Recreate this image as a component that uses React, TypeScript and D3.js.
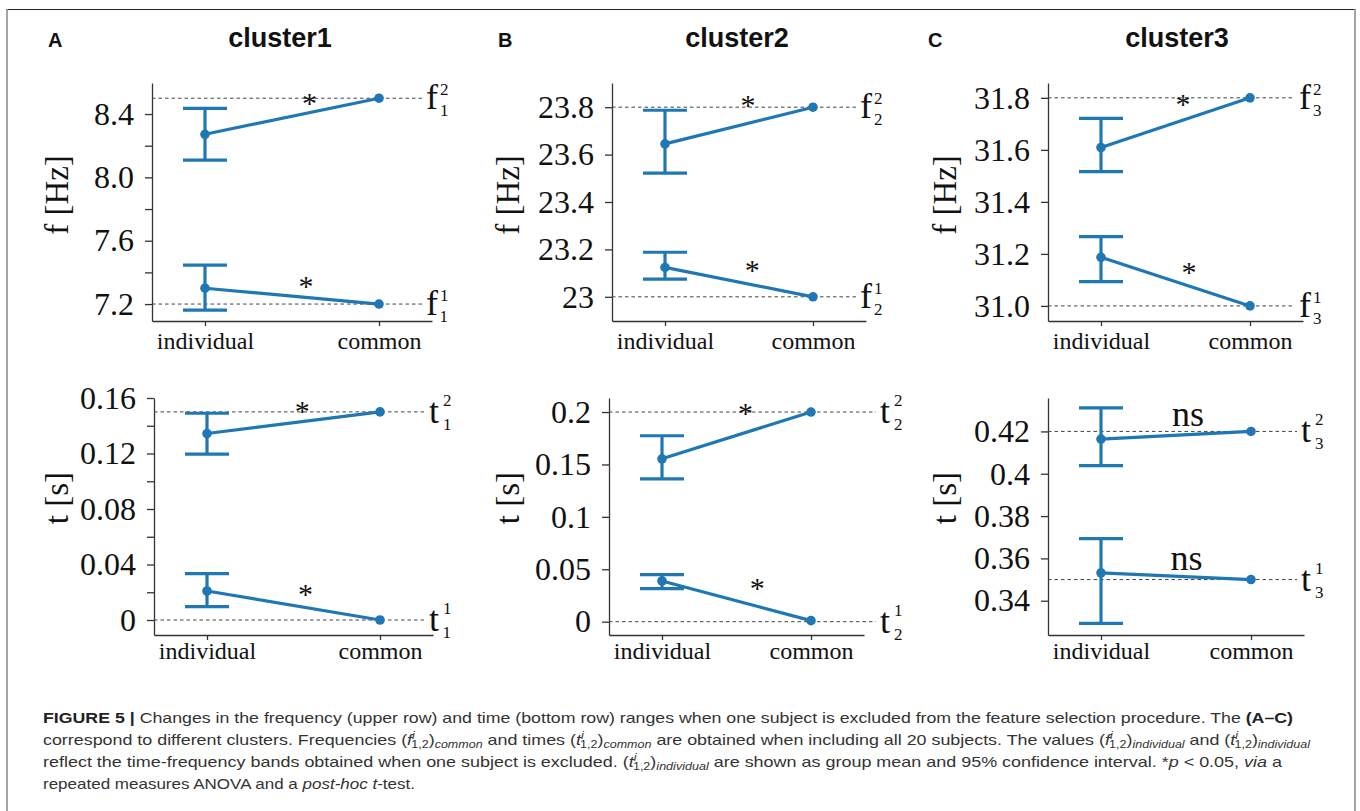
import React, { useRef, useEffect } from 'react';
import * as d3 from 'd3';

const WIDTH = 1360;
const HEIGHT = 811;

const panelLetters = ['A', 'B', 'C'];
const clusterNames = ['cluster1', 'cluster2', 'cluster3'];
const categories = ['individual', 'common'];

// upper row: frequency, per cluster [band 1, band 2]
const freqMean = [[7.3, 8.272], [23.124, 23.645], [31.187, 31.609]];
const freqLow = [[7.162, 8.109], [23.075, 23.522], [31.093, 31.516]];
const freqHigh = [[7.446, 8.436], [23.188, 23.787], [31.266, 31.721]];
const freqCommon = [[7.2, 8.5], [23.0, 23.8], [31.0, 31.8]];
const freqRef = [[7.2, 8.5], [23.0, 23.8], [31.0, 31.8]];
const freqDomain = [[7.093, 8.596], [22.898, 23.902], [30.942, 31.857]];
const freqTicks = [
  [7.2, 7.4, 7.6, 7.8, 8.0, 8.2, 8.4],
  [23.0, 23.2, 23.4, 23.6, 23.8],
  [31.0, 31.2, 31.4, 31.6, 31.8],
];
const freqTickLabels = [
  ['7.2', '', '7.6', '', '8.0', '', '8.4'],
  ['23', '23.2', '23.4', '23.6', '23.8'],
  ['31.0', '31.2', '31.4', '31.6', '31.8'],
];

// bottom row: time, per cluster [band 1, band 2]
const timeMean = [[0.0209, 0.1344], [0.0388, 0.1554], [0.3532, 0.4164]];
const timeLow = [[0.0097, 0.1195], [0.0316, 0.1363], [0.3293, 0.4038]];
const timeHigh = [[0.0335, 0.149], [0.0449, 0.1774], [0.3693, 0.4311]];
const timeCommon = [[0.0, 0.15], [0.001, 0.2], [0.35, 0.42]];
const timeRef = [[0.0, 0.15], [0.0, 0.2], [0.35, 0.42]];
const timeDomain = [[-0.0108, 0.16], [-0.0127, 0.2134], [0.3238, 0.4358]];
const timeTicks = [
  [0, 0.02, 0.04, 0.06, 0.08, 0.1, 0.12, 0.14, 0.16],
  [0, 0.05, 0.1, 0.15, 0.2],
  [0.34, 0.36, 0.38, 0.4, 0.42],
];
const timeTickLabels = [
  ['0', '', '0.04', '', '0.08', '', '0.12', '', '0.16'],
  ['0', '0.05', '0.1', '0.15', '0.2'],
  ['0.34', '0.36', '0.38', '0.4', '0.42'],
];

// significance marks per band
const freqSig = [['*', '*'], ['*', '*'], ['*', '*']];
const timeSig = [['*', '*'], ['*', '*'], ['ns', 'ns']];
// mark placement: fraction along individual -> common, and value
const freqSigFrac = [[0.58, 0.6], [0.59, 0.56], [0.59, 0.55]];
const freqSigVal = [[7.345, 8.504], [23.133, 23.83], [31.151, 31.795]];
const timeSigFrac = [[0.57, 0.55], [0.64, 0.56], [0.57, 0.58]];
const timeSigVal = [[0.0225, 0.1539], [0.0371, 0.2036], [0.3586, 0.4265]];

const BLUE = '#1f77b4';
const SERIF = "'Liberation Serif', 'Times New Roman', Times, serif";
const SANS = "'Liberation Sans', Arial, Helvetica, sans-serif";
const NARROW = "'Liberation Sans Narrow', 'Liberation Sans', Arial, sans-serif";
const EDGE = 53;

const rows = [
  {
    name: 'freq', letter: 'f', ylabel: 'f [Hz]', y0: 83, y1: 321, xlabPad: 6, ylabY: 195,
    mean: freqMean, low: freqLow, high: freqHigh, common: freqCommon, ref: freqRef,
    domain: freqDomain, ticks: freqTicks, tickLabels: freqTickLabels,
    sig: freqSig, sigFrac: freqSigFrac, sigVal: freqSigVal,
    cols: [{ x0: 152, x1: 432, refDx: 47, ylabX: 68 }, { x0: 612, x1: 866, refDx: 47, ylabX: 519 }, { x0: 1048, x1: 1303, refDx: 49, ylabX: 956 }],
  },
  {
    name: 'time', letter: 't', ylabel: 't [s]', y0: 398, y1: 635, xlabPad: 2, ylabY: 498,
    mean: timeMean, low: timeLow, high: timeHigh, common: timeCommon, ref: timeRef,
    domain: timeDomain, ticks: timeTicks, tickLabels: timeTickLabels,
    sig: timeSig, sigFrac: timeSigFrac, sigVal: timeSigVal,
    cols: [{ x0: 154, x1: 433, refDx: 49, ylabX: 68 }, { x0: 609, x1: 864, refDx: 69, ylabX: 519 }, { x0: 1048, x1: 1304, refDx: 50, ylabX: 956 }],
  },
];

// caption, one array of segments per line
const mathTerm = (letter, sub) => [
  { t: letter, it: true },
  { t: 'i', it: true, sm: true, sh: 6 },
  { t: '1,2', sm: true, sh: -3, dx: -3 },
  { t: ')' },
  { t: sub, it: true, sm: true, sh: -3 },
];
const captionLines = [
  [
    { t: 'FIGURE 5 | ', b: true },
    { t: 'Changes in the frequency (upper row) and time (bottom row) ranges when one subject is excluded from the feature selection procedure. The ' },
    { t: '(A–C)', b: true },
  ],
  [
    { t: 'correspond to different clusters. Frequencies (' },
    ...mathTerm('f', 'common'),
    { t: ' and times (' },
    ...mathTerm('t', 'common'),
    { t: ' are obtained when including all 20 subjects. The values (' },
    ...mathTerm('f', 'individual'),
    { t: ' and (' },
    ...mathTerm('t', 'individual'),
  ],
  [
    { t: 'reflect the time-frequency bands obtained when one subject is excluded. (' },
    ...mathTerm('t', 'individual'),
    { t: ' are shown as group mean and 95% confidence interval. *' },
    { t: 'p', it: true },
    { t: ' < 0.05, ' },
    { t: 'via', it: true },
    { t: ' a' },
  ],
  [
    { t: 'repeated measures ANOVA and a ' },
    { t: 'post-hoc', it: true },
    { t: ' ' },
    { t: 't', it: true },
    { t: '-test.' },
  ],
];
const captionBaselines = [723, 745, 767, 789];
const captionWidths = [1250, 1267, 1239, 372];

const App = () => {
  const svgRef = useRef(null);

  useEffect(() => {
    const svg = d3.select(svgRef.current);
    svg.selectAll('*').remove();

    svg.append('rect').attr('width', WIDTH).attr('height', HEIGHT).attr('fill', '#fff');

    // frame
    svg.append('line').attr('x1', 7).attr('x2', 1355).attr('y1', 9.5).attr('y2', 9.5)
      .attr('stroke', '#222').attr('stroke-width', 1.2);
    [7, 1355].forEach(x => {
      svg.append('line').attr('x1', x).attr('x2', x).attr('y1', 9).attr('y2', HEIGHT)
        .attr('stroke', '#888').attr('stroke-width', 1.5);
    });

    // panel letters and titles
    const letterX = [48, 498, 928];
    const titleX = [280, 737, 1177];
    clusterNames.forEach((name, c) => {
      svg.append('text').attr('x', letterX[c]).attr('y', 47).text(panelLetters[c])
        .attr('font-family', SANS).attr('font-weight', 'bold').attr('font-size', 20).attr('fill', '#111');
      svg.append('text').attr('x', titleX[c]).attr('y', 47).text(name)
        .attr('text-anchor', 'middle')
        .attr('font-family', SANS).attr('font-weight', 'bold').attr('font-size', 27).attr('fill', '#111');
    });

    rows.forEach(row => {
      row.cols.forEach((col, c) => {
        const g = svg.append('g');
        const y = d3.scaleLinear().domain(row.domain[c]).range([row.y1, row.y0]);
        const w = col.x1 - col.x0;
        const x = d3.scalePoint().domain(categories).range([col.x0, col.x1]).padding(EDGE / (w - 2 * EDGE));
        const xi = x('individual');
        const xc = x('common');
        const labelX = xc + col.refDx;

        // axes
        const yAxis = g.append('g').attr('transform', `translate(${col.x0},0)`)
          .call(d3.axisLeft(y).tickValues(row.ticks[c])
            .tickFormat((d, i) => row.tickLabels[c][i])
            .tickSize(7).tickPadding(11).tickSizeOuter(0));
        const xAxis = g.append('g').attr('transform', `translate(0,${row.y1})`)
          .call(d3.axisBottom(x).tickSize(5).tickPadding(row.xlabPad).tickSizeOuter(0));
        [yAxis, xAxis].forEach(ax => {
          ax.select('.domain').attr('stroke', '#333').attr('stroke-width', 1.3);
          ax.selectAll('.tick line').attr('stroke', '#333').attr('stroke-width', 1.3);
          ax.selectAll('.tick text').attr('fill', '#111').attr('font-family', SERIF);
        });
        yAxis.selectAll('.tick text').attr('font-size', 32);
        xAxis.selectAll('.tick text').attr('font-size', 24);

        // y label
        g.append('text')
          .attr('transform', `translate(${col.ylabX},${row.ylabY}) rotate(-90)`)
          .attr('text-anchor', 'middle')
          .attr('font-family', SERIF).attr('font-size', 33).attr('fill', '#111')
          .text(row.ylabel);

        [0, 1].forEach(b => {
          const ry = y(row.ref[c][b]);
          // reference line
          g.append('line').attr('x1', col.x0).attr('x2', labelX - 4).attr('y1', ry).attr('y2', ry)
            .attr('stroke', '#444').attr('stroke-width', 1).attr('stroke-dasharray', '3.5,3');

          // error bar
          const capHalf = 22;
          const eb = g.append('g').attr('stroke', BLUE).attr('stroke-width', 3.2);
          eb.append('line').attr('x1', xi).attr('x2', xi)
            .attr('y1', y(row.low[c][b])).attr('y2', y(row.high[c][b]));
          [row.low[c][b], row.high[c][b]].forEach(v => {
            eb.append('line').attr('x1', xi - capHalf).attr('x2', xi + capHalf)
              .attr('y1', y(v)).attr('y2', y(v));
          });

          // connecting line and dots
          const pts = [[xi, y(row.mean[c][b])], [xc, y(row.common[c][b])]];
          g.append('path').attr('d', d3.line()(pts))
            .attr('fill', 'none').attr('stroke', BLUE).attr('stroke-width', 3.2);
          pts.forEach(p => {
            g.append('circle').attr('cx', p[0]).attr('cy', p[1]).attr('r', 4.8).attr('fill', BLUE);
          });

          // significance mark
          const mark = row.sig[c][b];
          const fs = mark === '*' ? 30 : 36;
          const sx = xi + row.sigFrac[c][b] * (xc - xi);
          const sy = y(row.sigVal[c][b]) + (mark === '*' ? 0.5 * fs : 0.23 * fs);
          g.append('text').attr('x', sx).attr('y', sy).attr('text-anchor', 'middle')
            .attr('font-family', SERIF).attr('font-size', fs).attr('fill', '#111').text(mark);

          // band label, e.g. f with superscript band and subscript cluster
          const isF = row.letter === 'f';
          const supUp = isF ? 14 : 17;
          const lab = g.append('text').attr('x', labelX).attr('y', ry + 11)
            .attr('font-family', SERIF).attr('font-size', 36).attr('fill', '#111');
          lab.append('tspan').text(row.letter);
          lab.append('tspan').attr('font-size', 17).attr('dx', isF ? 2 : 4).attr('dy', -supUp)
            .text(String(b + 1));
          lab.append('tspan').attr('font-size', 17).attr('dx', -8.5).attr('dy', supUp + 7)
            .text(String(c + 1));
        });
      });
    });

    // caption
    captionLines.forEach((segs, li) => {
      const t = svg.append('text')
        .attr('x', 43).attr('y', captionBaselines[li])
        .attr('font-family', NARROW).attr('font-size', 15).attr('fill', '#333')
        .attr('textLength', captionWidths[li]).attr('lengthAdjust', 'spacingAndGlyphs');
      let prevShift = 0;
      segs.forEach(s => {
        const sh = s.sh || 0;
        const ts = t.append('tspan').text(s.t).attr('dy', prevShift - sh);
        prevShift = sh;
        if (s.dx) ts.attr('dx', s.dx);
        if (s.it) ts.attr('font-style', 'italic');
        if (s.b) ts.attr('font-weight', 'bold').attr('fill', '#222');
        if (s.sm) ts.attr('font-size', 10.5);
      });
    });
  }, []);

  return (
    <div style={{ position: 'absolute', left: 0, top: 0 }}>
      <svg ref={svgRef} width={WIDTH} height={HEIGHT} style={{ display: 'block' }}></svg>
    </div>
  );
};

export default App;
